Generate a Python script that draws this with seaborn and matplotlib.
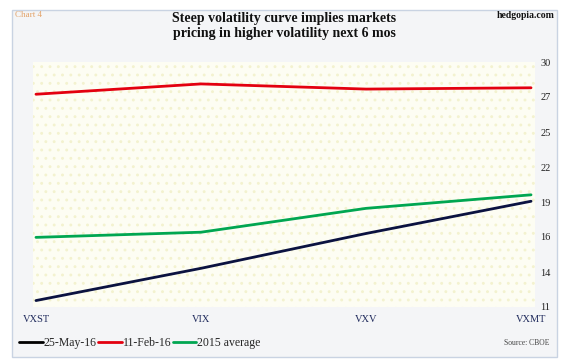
import numpy as np
import pandas as pd
import matplotlib
matplotlib.use("Agg")
import matplotlib.pyplot as plt
from matplotlib.patches import Rectangle
from matplotlib.ticker import FixedLocator, FixedFormatter
import seaborn as sns

# ---- data ----
categories = ["VXST", "VIX", "VXV", "VXMT"]
may_25_16 = [11.5, 14.0, 16.7, 19.2]
feb_11_16 = [27.5, 28.3, 27.9, 28.0]
avg_2015 = [16.4, 16.8, 18.65, 19.7]
series_names = ["25-May-16", "11-Feb-16", "2015 average"]
ytick_labels = ["11", "14", "16", "19", "22", "25", "27", "30"]
y_min, y_max = 11, 30

df = pd.DataFrame({
    "category": categories * 3,
    "value": may_25_16 + feb_11_16 + avg_2015,
    "series": [series_names[0]] * 4 + [series_names[1]] * 4 + [series_names[2]] * 4,
})

sns.set_style("white")
plt.rcParams["font.family"] = ["Liberation Serif", "DejaVu Serif"]
plt.rcParams["hatch.linewidth"] = 0.9

W, H = 571, 364
fig = plt.figure(figsize=(W / 100, H / 100), dpi=100)
fig.patch.set_facecolor("white")

# outer frame
fig.patches.append(Rectangle((12 / W, 1 - 357 / H), 545 / W, 347 / H,
                             transform=fig.transFigure, facecolor="#f4f5f7",
                             edgecolor="#c9d3e2", linewidth=1.0, zorder=-5))

ax = fig.add_axes([33 / W, 1 - 307 / H, 502 / W, 245 / H])
ax.set_zorder(2)
ax.set_facecolor("#fdfdf3")
ax.add_patch(Rectangle((0, 0), 1, 1, transform=ax.transAxes, facecolor="none",
                       edgecolor="#f3f2cf", hatch="..", linewidth=0, zorder=0))

palette = {"25-May-16": "#0b1240", "11-Feb-16": "#e3000f", "2015 average": "#00a651"}
sns.lineplot(data=df, x="category", y="value", hue="series", hue_order=series_names,
             palette=palette, linewidth=2.0, ax=ax, legend=False, sort=False)

ax.set_xlim(-0.018, 3.024)
ax.set_ylim(y_min, y_max)
for s in ax.spines.values():
    s.set_visible(False)
ax.set_xlabel("")
ax.set_ylabel("")

ax.yaxis.tick_right()
ax.yaxis.set_major_locator(FixedLocator(np.linspace(y_min, y_max, len(ytick_labels))))
ax.yaxis.set_major_formatter(FixedFormatter(ytick_labels))
ax.tick_params(axis="y", length=0, pad=4, labelsize=7.5, labelcolor="#222222")
ax.tick_params(axis="x", length=0, pad=6, labelsize=7.5, labelcolor="#1f2a5c")
ax.grid(False)

# legend
handles = [plt.Line2D([], [], color=("#000000" if n == series_names[0] else palette[n]), linewidth=2.0)
           for n in series_names]
fig.legend(handles, series_names, loc="center left", bbox_to_anchor=(19 / W, 1 - 343 / H),
           ncol=3, frameon=False, fontsize=8.5, handlelength=2.0, handletextpad=0.1,
           columnspacing=0.1, borderpad=0, borderaxespad=0)

# texts
fig.text(15 / W, 1 - 15 / H, "Chart 4", fontsize=6.5, color="#e3a36a", va="center", ha="left")
fig.text(555 / W, 1 - 15 / H, "hedgopia.com", fontsize=7, fontweight="bold", color="#111111",
         va="center", ha="right")
fig.text(284 / W, 1 - 26 / H, "Steep volatility curve implies markets\npricing in higher volatility next 6 mos",
         fontsize=10, fontweight="bold", ha="center", va="center", linespacing=1.25, color="#111111")
fig.text(550 / W, 1 - 343 / H, "Source: CBOE", fontsize=5.5, color="#444444", ha="right", va="center")

fig.savefig("out.png", dpi=100, facecolor="white")
